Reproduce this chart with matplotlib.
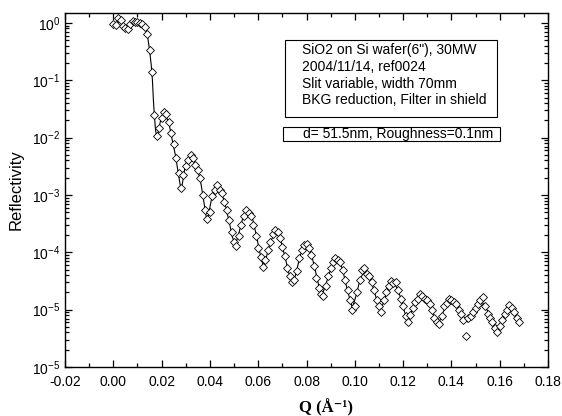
import numpy as np
import matplotlib
matplotlib.use("Agg")
import matplotlib.pyplot as plt
from matplotlib.patches import Rectangle

plt.rcParams['font.family'] = ['Liberation Sans', 'DejaVu Sans']

# measured reflectivity (open diamonds)
q_meas = [0.000, 0.001, 0.002, 0.003, 0.004, 0.005, 0.006, 0.007, 0.008, 0.009,
          0.010, 0.011, 0.012, 0.013, 0.014, 0.015, 0.016, 0.017, 0.018, 0.019,
          0.020, 0.021, 0.022, 0.023, 0.024, 0.025, 0.026, 0.027, 0.028, 0.029,
          0.030, 0.031, 0.032, 0.033, 0.034, 0.035, 0.036, 0.037, 0.038, 0.039,
          0.040, 0.041, 0.042, 0.043, 0.044, 0.045, 0.046, 0.047, 0.048, 0.049,
          0.050, 0.051, 0.052, 0.053, 0.054, 0.055, 0.056, 0.057, 0.058, 0.059,
          0.060, 0.061, 0.062, 0.063, 0.064, 0.065, 0.066, 0.067, 0.068, 0.069,
          0.070, 0.071, 0.072, 0.073, 0.074, 0.075, 0.076, 0.077, 0.078, 0.079,
          0.080, 0.081, 0.082, 0.083, 0.084, 0.085, 0.086, 0.087, 0.088, 0.089,
          0.090, 0.091, 0.092, 0.093, 0.094, 0.095, 0.096, 0.097, 0.098, 0.099,
          0.100, 0.101, 0.102, 0.103, 0.104, 0.105, 0.106, 0.107, 0.108, 0.109,
          0.110, 0.111, 0.112, 0.113, 0.114, 0.115, 0.116, 0.117, 0.118, 0.119,
          0.120, 0.121, 0.122, 0.123, 0.124, 0.125, 0.126, 0.127, 0.128, 0.129,
          0.130, 0.131, 0.132, 0.133, 0.134, 0.135, 0.136, 0.137, 0.138, 0.139,
          0.140, 0.141, 0.142, 0.143, 0.144, 0.145, 0.146, 0.147, 0.148, 0.149,
          0.150, 0.151, 0.152, 0.153, 0.154, 0.155, 0.156, 0.157, 0.158, 0.159,
          0.160, 0.161, 0.162, 0.163, 0.164, 0.165, 0.166, 0.167, 0.168]
r_meas = [0.96, 0.923, 1.22, 1.13, 0.887, 0.818, 0.786, 0.96, 1.08, 1.04,
          1.04, 1.0, 0.96, 0.852, 0.643, 0.338, 0.140, 0.0248, 0.0107, 0.0147,
          0.0220, 0.0280, 0.0259, 0.0188, 0.0121, 0.00775, 0.00442, 0.00242, 0.00132, 0.00223,
          0.00320, 0.00408, 0.00499, 0.00442, 0.00333, 0.00273, 0.00198, 1.0e-3, 5.47e-4, 3.81e-4,
          5.05e-4, 9.6e-4, 1.22e-3, 1.49e-3, 1.22e-3, 1.08e-3, 7.55e-4, 5.47e-4, 3.66e-4, 2.26e-4,
          1.51e-4, 1.29e-4, 1.93e-4, 3.0e-4, 4.30e-4, 5.47e-4, 4.85e-4, 4.30e-4, 3.0e-4, 1.93e-4,
          1.19e-4, 8.28e-5, 5.54e-5, 7.35e-5, 1.10e-4, 1.51e-4, 2.09e-4, 2.45e-4, 2.26e-4, 1.78e-4,
          1.24e-4, 8.63e-5, 5.33e-5, 3.86e-5, 3.03e-5, 3.29e-5, 4.72e-5, 7.96e-5, 1.10e-4, 1.34e-4,
          1.40e-4, 1.19e-4, 8.98e-5, 5.77e-5, 3.56e-5, 2.39e-5, 1.87e-5, 1.73e-5, 2.59e-5, 3.86e-5,
          5.33e-5, 6.78e-5, 7.96e-5, 7.35e-5, 6.78e-5, 4.92e-5, 3.29e-5, 2.20e-5, 1.47e-5, 9.87e-6,
          1.16e-5, 2.03e-5, 3.29e-5, 4.92e-5, 5.33e-5, 4.19e-5, 3.86e-5, 3.03e-5, 2.20e-5, 1.47e-5,
          1.16e-5, 9.10e-6, 1.47e-5, 2.03e-5, 2.59e-5, 3.16e-5, 2.92e-5, 3.03e-5, 2.20e-5, 1.53e-5,
          1.16e-5, 7.75e-6, 6.10e-6, 8.07e-6, 1.07e-5, 1.36e-5, 1.53e-5, 1.87e-5, 1.73e-5, 1.53e-5,
          1.47e-5, 1.26e-5, 9.87e-6, 7.16e-6, 6.10e-6, 5.62e-6, 7.75e-6, 1.16e-5, 1.31e-5, 1.53e-5,
          1.47e-5, 1.36e-5, 1.26e-5, 9.87e-6, 8.4e-6, 6.60e-6, 3.47e-6, 7.16e-6, 7.75e-6, 9.10e-6,
          1.07e-5, 1.26e-5, 1.47e-5, 1.66e-5, 1.16e-5, 8.4e-6, 7.16e-6, 6.10e-6, 4.79e-6, 4.08e-6,
          5.19e-6, 6.60e-6, 8.4e-6, 9.87e-6, 1.21e-5, 1.07e-5, 9.10e-6, 7.16e-6, 6.10e-6]

# fitted curve (solid line)
q_fit = [0.0099, 0.0120, 0.0133, 0.0141, 0.0149, 0.0157, 0.0162, 0.0166, 0.0170, 0.0174,
         0.0178, 0.0182, 0.0190, 0.0199, 0.0207, 0.0219, 0.0232, 0.0244, 0.0257, 0.0269,
         0.0277, 0.0282, 0.0290, 0.0298, 0.0311, 0.0319, 0.0335, 0.0352, 0.0364, 0.0377,
         0.0385, 0.0393, 0.0406, 0.0418, 0.0431, 0.0447, 0.0464, 0.0480, 0.0493, 0.0505,
         0.0518, 0.0534, 0.0555, 0.0576, 0.0592, 0.0609, 0.0621, 0.0633, 0.0650, 0.0671,
         0.0691, 0.0712, 0.0729, 0.0745, 0.0758, 0.0774, 0.0795, 0.0816, 0.0836, 0.0853,
         0.0865, 0.0882, 0.0903, 0.0927, 0.0948, 0.0969, 0.0990, 0.1006, 0.1023, 0.1039,
         0.1064, 0.1085, 0.1105, 0.1122, 0.1139, 0.1159, 0.1180, 0.1201, 0.1217, 0.1234,
         0.1254, 0.1283, 0.1304, 0.1325, 0.1346, 0.1366, 0.1387, 0.1408, 0.1428, 0.1445,
         0.1466, 0.1486, 0.1507, 0.1528, 0.1548, 0.1569, 0.1590, 0.1606, 0.1623, 0.1644,
         0.1664, 0.1677]
r_fit = [1.04, 1.0, 0.818, 0.618, 0.366, 0.185, 0.101, 0.0454, 0.0248, 0.0147,
         0.0111, 0.0103, 0.0153, 0.0229, 0.0269, 0.0239, 0.0166, 0.0091, 0.00499, 0.00242,
         0.00149, 0.00127, 0.00198, 0.00333, 0.00442, 0.00479, 0.00408, 0.00252, 0.00149, 6.69e-4,
         4.13e-4, 4.30e-4, 8.18e-4, 1.22e-3, 1.38e-3, 1.13e-3, 6.69e-4, 3.38e-4, 1.85e-4, 1.34e-4,
         2.00e-4, 3.66e-4, 5.05e-4, 3.97e-4, 2.00e-4, 8.98e-5, 5.77e-5, 7.96e-5, 1.51e-4, 2.26e-4,
         1.78e-4, 7.96e-5, 4.02e-5, 2.92e-5, 4.54e-5, 8.98e-5, 1.34e-4, 1.10e-4, 4.92e-5, 2.39e-5,
         1.80e-5, 2.92e-5, 5.54e-5, 7.35e-5, 5.33e-5, 2.20e-5, 1.07e-5, 1.80e-5, 3.56e-5, 4.54e-5,
         3.56e-5, 1.80e-5, 9.10e-6, 1.47e-5, 2.48e-5, 3.03e-5, 2.20e-5, 1.07e-5, 6.60e-6, 9.10e-6,
         1.47e-5, 1.80e-5, 1.36e-5, 8.07e-6, 5.62e-6, 9.10e-6, 1.36e-5, 1.47e-5, 1.11e-5, 8.07e-6,
         6.10e-6, 9.10e-6, 1.26e-5, 1.36e-5, 9.87e-6, 6.10e-6, 4.08e-6, 6.10e-6, 9.10e-6, 1.11e-5,
         8.07e-6, 6.34e-6]

x_ticks = [-0.02, 0.00, 0.02, 0.04, 0.06, 0.08, 0.10, 0.12, 0.14, 0.16, 0.18]
x_ticklabels = ["-0.02", "0.00", "0.02", "0.04", "0.06", "0.08", "0.10", "0.12", "0.14", "0.16", "0.18"]
y_ticks = [1e-6, 1e-5, 1e-4, 1e-3, 1e-2, 1e-1, 1e0]
y_ticklabels = [r"$\mathregular{10^{-5}}$", r"$\mathregular{10^{-5}}$", r"$\mathregular{10^{-4}}$",
                r"$\mathregular{10^{-3}}$", r"$\mathregular{10^{-2}}$", r"$\mathregular{10^{-1}}$",
                r"$\mathregular{10^{0}}$"]

info_lines = ['SiO2 on Si wafer(6"), 30MW', "2004/11/14, ref0024",
              "Slit variable, width 70mm", "BKG reduction, Filter in shield"]
fit_text = "d= 51.5nm, Roughness=0.1nm"

W, H = 562, 416
fig = plt.figure(figsize=(W / 100, H / 100), dpi=100)
ax = fig.add_axes([65 / W, 1 - 367 / H, (548 - 65) / W, (367 - 13) / H])

ax.plot(q_fit, r_fit, color="black", lw=0.8, zorder=2)
ax.plot(q_meas, r_meas, linestyle="none", marker="D", markersize=3.7,
        markerfacecolor="white", markeredgecolor="black", markeredgewidth=0.6, zorder=3)

ax.set_yscale("log")
ax.set_xlim(-0.02, 0.18)
ax.set_ylim(1e-6, 1.49)
ax.set_xticks(x_ticks)
ax.set_xticklabels(x_ticklabels)
ax.set_xticks(np.array(x_ticks[:-1]) + 0.01, minor=True)
ax.set_yticks(y_ticks)
ax.set_yticklabels(y_ticklabels)
ax.yaxis.set_minor_locator(matplotlib.ticker.LogLocator(base=10, subs=np.arange(2, 10)))
ax.yaxis.set_minor_formatter(matplotlib.ticker.NullFormatter())

ax.tick_params(which="both", direction="in", top=True, right=True, labelsize=10, width=0.9)
ax.tick_params(which="major", length=5)
ax.tick_params(which="minor", length=3)
ax.tick_params(axis="x", pad=6)
for s in ax.spines.values():
    s.set_linewidth(1.0)

ax.set_ylabel("Reflectivity", fontsize=12)
ax.yaxis.set_label_coords(-0.085, 0.5)
ax.set_xlabel("Q (Å⁻¹)", fontsize=12, fontweight="bold", family=["Liberation Serif", "DejaVu Serif"])
ax.xaxis.set_label_coords(0.54, -0.09)

# info box
fig.text(302 / W, 1 - 43 / H, "\n".join(info_lines), fontsize=10, va="top", ha="left",
         linespacing=1.25)
fig.patches.append(Rectangle((285 / W, 1 - 117 / H), (497 - 285) / W, (117 - 40) / H,
                             transform=fig.transFigure, fill=False, lw=0.8, ec="black"))
fig.text(303 / W, 1 - 134 / H, fit_text, fontsize=10, va="center", ha="left")
fig.patches.append(Rectangle((283 / W, 1 - 141 / H), (500 - 283) / W, (141 - 127) / H,
                             transform=fig.transFigure, fill=False, lw=0.8, ec="black"))

fig.savefig("out.png", dpi=100)
